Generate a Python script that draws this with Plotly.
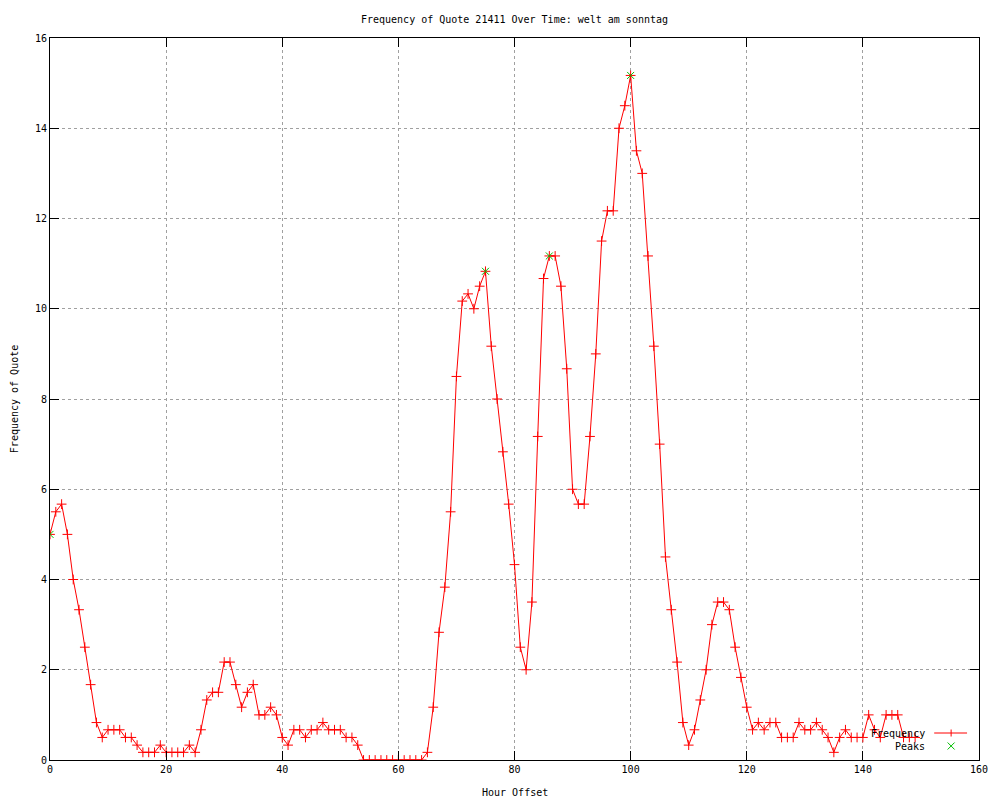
import plotly.graph_objects as go

# ---------------- data ----------------
hours = list(range(150))
frequency = [
    5.0, 5.5, 5.67, 5.0, 4.0, 3.33, 2.5, 1.67, 0.83, 0.5,
    0.67, 0.67, 0.67, 0.5, 0.5, 0.33, 0.17, 0.17, 0.17, 0.33,
    0.17, 0.17, 0.17, 0.17, 0.33, 0.17, 0.67, 1.33, 1.5, 1.5,
    2.17, 2.17, 1.67, 1.17, 1.5, 1.67, 1.0, 1.0, 1.17, 1.0,
    0.5, 0.33, 0.67, 0.67, 0.5, 0.67, 0.67, 0.83, 0.67, 0.67,
    0.67, 0.5, 0.5, 0.33, 0.0, 0.0, 0.0, 0.0, 0.0, 0.0,
    0.0, 0.0, 0.0, 0.0, 0.0, 0.17, 1.17, 2.83, 3.83, 5.5,
    8.5, 10.17, 10.33, 10.0, 10.5, 10.83, 9.17, 8.0, 6.83, 5.67,
    4.33, 2.5, 2.0, 3.5, 7.17, 10.67, 11.17, 11.17, 10.5, 8.67,
    6.0, 5.67, 5.67, 7.17, 9.0, 11.5, 12.17, 12.17, 14.0, 14.5,
    15.17, 13.5, 13.0, 11.17, 9.17, 7.0, 4.5, 3.33, 2.17, 0.83,
    0.33, 0.67, 1.33, 2.0, 3.0, 3.5, 3.5, 3.33, 2.5, 1.83,
    1.17, 0.67, 0.83, 0.67, 0.83, 0.83, 0.5, 0.5, 0.5, 0.83,
    0.67, 0.67, 0.83, 0.67, 0.5, 0.17, 0.5, 0.67, 0.5, 0.5,
    0.5, 1.0, 0.67, 0.5, 1.0, 1.0, 1.0, 0.5, 0.5, 0.5,
]
peak_hours = [0, 75, 86, 100]
peak_values = [5.0, 10.83, 11.17, 15.17]

x_ticks = list(range(0, 161, 20))
y_ticks = list(range(0, 17, 2))

title_text = "Frequency of Quote 21411 Over Time: welt am sonntag"
x_title = "Hour Offset"
y_title = "Frequency of Quote"
series_names = ["Frequency", "Peaks"]

# ---------------- style ----------------
FONT = "DejaVu Sans Mono"
RED = "#ff0000"
GREEN = "#00c000"
OFF = 8                      # default page body margin of the html page
W, H = 1000 - OFF, 800 - OFF
L, R, T, B = 50, 983, 38, 760  # wanted plot area in page pixels


def paper(xp, yp):
    return (xp - L) / (R - L), (B - yp) / (B - T)


fig = go.Figure()
fig.add_trace(go.Scatter(
    x=hours, y=frequency, mode="lines+markers", name=series_names[0],
    line=dict(color=RED, width=1),
    marker=dict(symbol="cross-thin", size=7, color=RED,
                line=dict(color=RED, width=1)),
))
fig.add_trace(go.Scatter(
    x=peak_hours, y=peak_values, mode="markers", name=series_names[1],
    marker=dict(symbol="x-thin", size=7, color=GREEN,
                line=dict(color=GREEN, width=1)),
))

axis_common = dict(
    ticks="inside", ticklen=9, tickwidth=1, tickcolor="black",
    mirror="allticks", showline=True, linecolor="black", linewidth=1,
    showgrid=True, gridcolor="#a0a0a0", griddash="dot", gridwidth=1,
    zeroline=False, tickfont=dict(family=FONT, size=10, color="black"),
)
fig.update_xaxes(range=[0, 160], tickvals=x_ticks, **axis_common)
fig.update_yaxes(range=[0, 16], tickvals=y_ticks, **axis_common)

# ---------- custom gnuplot-style key (text left, sample right) ----------
shapes = []
annotations = []
key_rows = [733, 746]
text_right = 931
samp_x0, samp_x1, samp_c = 938, 971, 955
for name, yp in zip(series_names, key_rows):
    ax_, ay_ = paper(text_right, yp)
    annotations.append(dict(
        x=ax_, y=ay_, xref="paper", yref="paper", text=name,
        showarrow=False, xanchor="right", yanchor="middle",
        font=dict(family=FONT, size=10, color="black"),
    ))
# Frequency sample: line with a plus
x0, y0 = paper(samp_x0, key_rows[0])
x1, _ = paper(samp_x1, key_rows[0])
shapes.append(dict(type="line", xref="paper", yref="paper",
                   x0=x0, y0=y0, x1=x1, y1=y0,
                   line=dict(color=RED, width=1)))
xc, _ = paper(samp_c, key_rows[0])
_, b_ = paper(samp_c, key_rows[0] - 3.5)
_, d = paper(samp_c, key_rows[0] + 3.5)
shapes.append(dict(type="line", xref="paper", yref="paper",
                   x0=xc, y0=b_, x1=xc, y1=d, line=dict(color=RED, width=1)))
# Peaks sample: green x
a, b_ = paper(samp_c - 3.5, key_rows[1] - 3.5)
c, d = paper(samp_c + 3.5, key_rows[1] + 3.5)
shapes.append(dict(type="line", xref="paper", yref="paper",
                   x0=a, y0=b_, x1=c, y1=d, line=dict(color=GREEN, width=1)))
shapes.append(dict(type="line", xref="paper", yref="paper",
                   x0=a, y0=d, x1=c, y1=b_, line=dict(color=GREEN, width=1)))

# axis titles
tx, ty = paper((L + R) / 2, 792)
annotations.append(dict(x=tx, y=ty, xref="paper", yref="paper", text=x_title,
                        showarrow=False, xanchor="center", yanchor="middle",
                        font=dict(family=FONT, size=10, color="black")))
tx, ty = paper(14, (T + B) / 2)
annotations.append(dict(x=tx, y=ty, xref="paper", yref="paper", text=y_title,
                        showarrow=False, textangle=-90,
                        xanchor="center", yanchor="middle",
                        font=dict(family=FONT, size=10, color="black")))

fig.update_layout(
    width=W, height=H,
    margin=dict(l=L - OFF, r=1000 - R, t=T - OFF, b=800 - B, pad=0),
    autosize=False,
    paper_bgcolor="white", plot_bgcolor="white",
    showlegend=False,
    title=dict(text=title_text, x=0.5, xref="paper", xanchor="center",
               y=1 - (19 - OFF) / H, yref="container", yanchor="middle",
               font=dict(family=FONT, size=10, color="black")),
    shapes=shapes, annotations=annotations,
)

fig.write_html("out.html")
